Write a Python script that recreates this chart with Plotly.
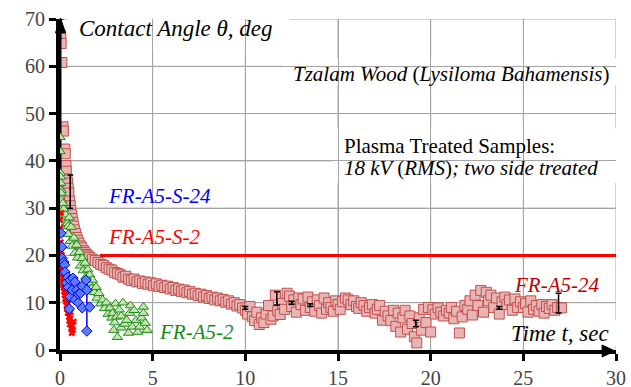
import plotly.graph_objects as go
import plotly.io as pio

pio.templates.default = "none"

# ---------------- data ----------------
# FR-A5-24 (squares)
sq_t = [0.02, 0.04, 0.06, 0.10, 0.16, 0.18, 0.26, 0.28, 0.32, 0.34, 0.38, 0.40, 0.44, 0.48,
        0.52, 0.55, 0.58, 0.62, 0.66, 0.70, 0.74, 0.78, 0.84, 0.90, 0.96, 1.02, 1.10, 1.18,
        1.26, 1.34, 1.42, 1.50,
        1.60, 1.75, 1.90, 2.05, 2.20, 2.35, 2.50, 2.65, 2.80, 2.95, 3.10, 3.25, 3.40, 3.55,
        3.70, 3.85, 4.00, 4.15, 4.30, 4.45, 4.60, 4.75, 4.90, 5.05, 5.20, 5.35, 5.50, 5.65,
        5.80, 5.95, 6.10, 6.25, 6.40, 6.55, 6.70, 6.85, 7.00, 7.15, 7.30, 7.45, 7.60, 7.75,
        7.90, 8.05, 8.20, 8.35, 8.50, 8.65, 8.80, 8.95, 9.10, 9.25, 9.40, 9.55, 9.70, 9.85,
        10.00, 10.12, 10.25, 10.38, 10.50, 10.62, 10.75, 10.88, 11.00, 11.12, 11.25, 11.38,
        11.50, 11.62, 11.75, 11.88, 12.00, 12.12, 12.25, 12.38, 12.50, 12.62, 12.75, 12.88,
        13.00, 13.12, 13.25, 13.38, 13.50, 13.62, 13.75, 13.88, 14.00, 14.12, 14.25, 14.38,
        14.50, 14.62, 14.75, 14.88, 15.00, 15.12, 15.25, 15.40, 15.55, 15.70, 15.85, 16.00,
        16.12, 16.25, 16.40, 16.55, 16.70, 16.85, 17.00, 17.12, 17.25, 17.40, 17.55, 17.70,
        17.85, 18.00, 18.12, 18.25, 18.38, 18.50, 18.62, 18.75, 18.88, 19.00, 19.12, 19.25,
        19.38, 19.50, 19.62, 19.75, 19.88, 20.00, 20.12, 20.25, 20.40, 20.55, 20.70, 20.85,
        21.00, 21.12, 21.25, 21.40, 21.55, 21.70, 21.85, 22.00, 22.12, 22.25, 22.40, 22.55,
        22.70, 22.85, 23.00, 23.12, 23.25, 23.40, 23.55, 23.70, 23.85, 24.00, 24.12, 24.25,
        24.40, 24.55, 24.70, 24.85, 25.00, 25.12, 25.25, 25.40, 25.55, 25.70, 25.85, 26.00,
        26.12, 26.25, 26.40, 26.55, 26.70, 26.85, 27.05]
sq_v = [66.5, 66.0, 64.8, 60.8, 47.2, 46.3, 42.5, 41.5, 39.0, 37.8, 36.2, 35.3, 34.2, 33.2,
        31.5, 30.5, 29.5, 28.6, 27.8, 27.0, 26.2, 25.4, 24.6, 23.8, 23.2, 22.6, 22.0, 21.6,
        21.0, 20.6, 20.2, 19.9,
        19.6, 19.2, 18.9, 18.5, 18.1, 17.9, 17.4, 17.1, 16.9, 16.4, 16.2, 15.9, 15.4, 15.6,
        15.0, 14.7, 15.0, 14.4, 14.6, 14.1, 14.4, 13.9, 14.2, 13.6, 14.0, 13.4, 13.7, 13.2,
        13.5, 12.9, 13.2, 12.6, 12.9, 12.4, 12.7, 12.1, 12.4, 11.8, 12.0, 11.5, 11.8, 11.2,
        11.5, 10.9, 11.2, 10.6, 11.0, 10.4, 10.7, 10.1, 10.4, 9.7, 10.0, 9.3, 9.6, 8.9,
        8.4, 7.6, 9.2, 7.0, 6.2, 8.0, 5.4, 6.8, 5.8, 7.6, 9.4, 6.5,
        7.2, 11.6, 8.3, 7.5, 9.8, 8.6, 12.0, 11.4, 9.2, 10.6, 8.0, 11.0,
        9.6, 10.8, 8.4, 11.2, 9.0, 10.2, 8.2, 10.6, 9.4, 7.8, 11.0, 8.6,
        10.0, 9.0, 8.2, 10.4, 9.6, 8.6, 10.2, 11.0, 10.6, 9.6, 10.4, 9.2,
        8.8, 10.0, 9.4, 8.2, 9.0, 9.6, 7.8, 8.6, 9.4, 6.3, 8.2, 7.2,
        6.2, 8.4, 5.0, 7.8, 3.8, 6.8, 8.4, 4.4, 7.2, 5.6, 2.8, 1.5,
        6.8, 4.2, 8.6, 5.8, 9.0, 3.8, 8.5, 7.6, 8.9, 8.0, 7.2, 8.4,
        7.8, 9.0, 6.6, 8.2, 3.6, 7.0, 9.4, 8.6, 10.4, 7.4, 11.6, 9.4,
        12.6, 8.0, 12.2, 10.4, 11.6, 9.0, 11.0, 7.6, 10.2, 11.2, 9.6, 10.6,
        8.4, 10.8, 9.0, 10.2, 9.0, 9.8, 8.0, 10.4, 8.6, 9.4, 8.2, 9.6,
        7.8, 9.2, 8.8, 9.6, 8.4, 9.0, 8.9]

# FR-A5-24 error bars (only where drawn)
sq_err_t = [0.04, 0.55, 10.0, 11.7, 12.5, 13.5, 19.2, 23.7, 26.9]
sq_err_v = [66.0, 31.0, 8.9, 10.0, 10.0, 9.5, 5.6, 8.9, 9.0]
sq_err_up = [4.0, 6.0, 0.3, 2.3, 0.3, 0.3, 0.7, 0.3, 3.0]
sq_err_dn = [31.0, 1.0, 0.3, 0.5, 0.3, 0.3, 0.7, 0.3, 1.2]

# FR-A5-2 (triangles)
tri_t = [0.0, 0.0, 0.02, 0.03, 0.04, 0.05, 0.06, 0.08, 0.10, 0.12, 0.15, 0.20, 0.25, 0.30,
         0.35, 0.40, 0.45, 0.45, 0.50, 0.55, 0.60, 0.65, 0.75, 0.80, 0.90, 0.95, 1.05, 1.10,
         1.20, 1.25, 1.35, 1.40, 1.50, 1.55, 1.60, 1.70, 1.75, 1.85, 1.95, 2.00, 2.10, 2.20,
         2.30, 2.40, 2.50, 2.60, 2.70, 2.80, 2.85, 2.90, 2.95, 3.00, 3.05, 3.10, 3.20, 3.30,
         3.30, 3.40, 3.50, 3.60, 3.70, 3.75, 3.80, 3.90, 4.00, 4.10, 4.20, 4.30, 4.40, 4.50,
         4.50, 4.60, 4.70]
tri_v = [45.0, 42.0, 37.4, 36.6, 35.3, 33.8, 33.2, 31.7, 30.5, 29.0, 31.0, 29.8, 28.0, 28.6,
         27.0, 26.8, 26.2, 24.5, 28.0, 23.0, 26.0, 22.0, 23.7, 20.5, 22.2, 19.5, 20.7, 17.8,
         19.4, 16.8, 18.4, 15.5, 17.0, 14.2, 15.9, 13.0, 14.8, 12.2, 13.3, 11.0, 12.0, 9.8,
         10.6, 8.8, 10.0, 7.6, 8.9, 6.8, 7.8, 4.2, 5.8, 9.8, 7.0, 2.7, 8.5, 4.7,
         7.2, 10.0, 5.5, 6.3, 3.6, 7.8, 9.4, 4.9, 8.4, 6.3, 3.8, 4.9, 6.8, 9.1,
         7.8, 5.7, 4.2]

# FR-A5-S-24 (diamonds)
dia_t = [0.05, 0.10, 0.12, 0.20, 0.25, 0.27, 0.35, 0.42, 0.45, 0.50, 0.55, 0.55, 0.65, 0.70,
         0.80, 0.80, 0.90, 0.98, 1.00, 1.10, 1.20, 1.20, 1.40, 1.45, 1.45, 1.60]
dia_v = [24.7, 21.8, 19.4, 18.6, 18.0, 16.5, 14.2, 15.4, 13.3, 8.7, 14.8, 11.2, 12.7, 15.2,
         14.4, 10.6, 12.7, 10.0, 11.8, 12.0, 13.5, 8.9, 14.8, 12.7, 4.0, 9.1]
dia_err_t = [0.50, 1.45]
dia_err_v = [8.7, 4.0]
dia_err_up = [3.5, 10.8]

# FR-A5-S-2 (crosses)
x_t = [0.00, 0.02, 0.03, 0.04, 0.05, 0.07, 0.08, 0.10, 0.12, 0.14, 0.16, 0.18, 0.20, 0.22,
       0.25, 0.28, 0.30, 0.33, 0.36, 0.38, 0.42, 0.45, 0.48, 0.50, 0.53, 0.56, 0.60, 0.63,
       0.66, 0.70, 0.74, 0.05, 0.10, 0.15, 0.20, 0.26, 0.40, 0.58]
x_v = [27.5, 25.8, 24.5, 22.8, 21.0, 19.6, 18.4, 17.2, 16.0, 15.2, 14.0, 13.6, 13.2, 12.4,
       11.6, 10.8, 12.0, 10.2, 9.4, 8.6, 7.8, 9.0, 7.0, 6.2, 5.4, 6.6, 4.6, 3.6,
       5.2, 4.2, 6.0, 29.0, 20.0, 17.8, 15.0, 13.0, 10.6, 8.0]

# horizontal red line
line_t = [2.15, 30.0]
line_v = [20.0, 20.0]

x_ticks = [0, 5, 10, 15, 20, 25, 30]
y_ticks = [0, 10, 20, 30, 40, 50, 60, 70]

FONT = "Liberation Serif"
GRID = "#A5A5A5"

fig = go.Figure()

fig.add_trace(go.Scatter(x=line_t, y=line_v, mode="lines",
                         line=dict(color="red", width=3)))
fig.add_trace(go.Scatter(x=sq_t, y=sq_v, mode="markers",
                         marker=dict(symbol="square", size=10, color="#E8B4B4",
                                     line=dict(color="#C0504D", width=1))))
fig.add_trace(go.Scatter(x=sq_err_t, y=sq_err_v, mode="markers",
                         marker=dict(size=2, color="black"),
                         error_y=dict(type="data", symmetric=False, array=sq_err_up,
                                      arrayminus=sq_err_dn, color="black", thickness=1.5, width=3)))
fig.add_trace(go.Scatter(x=tri_t, y=tri_v, mode="markers",
                         marker=dict(symbol="triangle-up", size=9, color="#C6E4AC",
                                     line=dict(color="#1E8C1E", width=1))))
fig.add_trace(go.Scatter(x=x_t, y=x_v, mode="markers",
                         marker=dict(symbol="x", size=6, color="red")))
fig.add_trace(go.Scatter(x=dia_err_t, y=dia_err_v, mode="markers",
                         marker=dict(size=2, color="blue"),
                         error_y=dict(type="data", symmetric=False, array=dia_err_up,
                                      arrayminus=[0, 0], color="blue", thickness=1.5, width=1)))
fig.add_trace(go.Scatter(x=dia_t, y=dia_v, mode="markers",
                         marker=dict(symbol="diamond", size=8, color="#5A7DFF",
                                     line=dict(color="#0000E6", width=1))))

# grid lines drawn as shapes at the tick values (below the data)
for xv in x_ticks[1:]:
    fig.add_shape(type="line", xref="x", yref="y", x0=xv, x1=xv, y0=y_ticks[0], y1=y_ticks[-1],
                  line=dict(color=GRID, width=1), layer="below")
for yv in y_ticks[1:]:
    fig.add_shape(type="line", xref="x", yref="y", x0=x_ticks[0], x1=x_ticks[-1], y0=yv, y1=yv,
                  line=dict(color=GRID, width=1), layer="below")

# white boxes behind the text blocks (hide the grid there)
for x0, x1, y0, y1 in [(0.4, 12.4, 63.0, 70.5), (12.0, 30.3, 56.0, 61.7),
                       (14.7, 30.3, 35.3, 46.9), (24.0, 30.3, 0.8, 6.3)]:
    fig.add_shape(type="rect", xref="x", yref="y", x0=x0, x1=x1, y0=y0, y1=y1,
                  fillcolor="white", line=dict(width=0), layer="below")

# axis arrows (paper coords of plot area: x 60..616 px, y 19..350 px)
fig.add_shape(type="path", xref="paper", yref="paper",
              path="M 0.0009,1.003 L -0.0081,0.958 L 0.0099,0.958 Z",
              fillcolor="black", line=dict(color="black", width=1), layer="above")
fig.add_shape(type="path", xref="paper", yref="paper",
              path="M 0.9982,-0.003 L 0.975,0.015 L 0.975,-0.021 Z",
              fillcolor="black", line=dict(color="black", width=1), layer="above")

def ann(text, x, y, size, color="black"):
    fig.add_annotation(text=text, x=x, y=y, xref="x", yref="y", showarrow=False,
                       xanchor="left", font=dict(family=FONT, size=size, color=color))

ann("<i>Contact Angle θ, deg</i>", 0.93, 68.0, 23)
ann("<i>Tzalam Wood </i>(<i>Lysiloma Bahamensis</i>)", 12.45, 58.4, 21)
ann("Plasma Treated Samples:", 15.2, 43.1, 21)
ann("<i>18 kV </i>(<i>RMS</i>)<i>; two side treated</i>", 15.2, 38.4, 21)
ann("<i>Time t, sec</i>", 24.25, 3.5, 23)
ann("<i>FR-A5-S-24</i>", 2.5, 32.6, 21, "blue")
ann("<i>FR-A5-S-2</i>", 2.5, 24.0, 21, "red")
ann("<i>FR-A5-2</i>", 5.25, 3.9, 21, "#148C14")
ann("<i>FR-A5-24</i>", 24.4, 13.7, 21, "#C00000")

fig.update_layout(
    width=631, height=387, showlegend=False,
    margin=dict(l=60, r=15, t=19, b=37),
    paper_bgcolor="white", plot_bgcolor="white",
    xaxis=dict(range=[0, 30], tickvals=x_ticks, showgrid=True, gridcolor=GRID, gridwidth=1,
               zeroline=False, showline=True, linecolor="black", linewidth=4, ticks="outside",
               ticklen=7, tickwidth=3, tickcolor="black",
               tickfont=dict(family=FONT, size=20)),
    yaxis=dict(range=[0, 70], tickvals=y_ticks, showgrid=True, gridcolor=GRID, gridwidth=1,
               zeroline=False, showline=True, linecolor="black", linewidth=4, ticks="outside",
               ticklen=7, tickwidth=3, tickcolor="black",
               tickfont=dict(family=FONT, size=20)),
)
fig.write_html("out.html")
